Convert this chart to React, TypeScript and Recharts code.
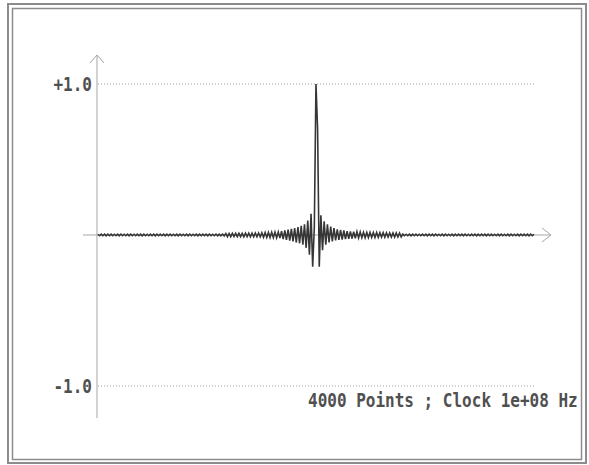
import { LineChart, Line, XAxis, YAxis, ReferenceLine, ReferenceDot } from 'recharts';

// impulse response (every 15th of the 4000 points)
const SAMPLE_STEP = 15;
const samples: number[] = [
  0.005, -0.005, 0.006, -0.005, 0.005, -0.006, 0.005, -0.005, 0.006, -0.005,
  0.005, -0.005, 0.005, -0.006, 0.006, -0.005, 0.005, -0.005, 0.005, -0.006,
  0.006, -0.005, 0.005, -0.005, 0.006, -0.005, 0.005, -0.006, 0.005, -0.005,
  0.005, -0.005, 0.006, -0.005, 0.005, -0.006, 0.005, -0.005, 0.006, -0.005,
  0.005, -0.006, 0.005, -0.005, 0.006, -0.005, 0.005, -0.005, 0.005, -0.006,
  0.006, -0.005, 0.005, -0.005, 0.005, -0.006, 0.006, -0.005, 0.005, -0.005,
  0.005, -0.006, 0.005, -0.005, 0.006, -0.005, 0.005, -0.006, 0.006, -0.005,
  0.005, -0.005, 0.006, -0.006, 0.005, -0.006, 0.006, -0.006,
  0.010, -0.011, 0.010, -0.011, 0.011, -0.010, 0.011, -0.011, 0.011, -0.011,
  0.011, -0.012, 0.012, -0.011, 0.012, -0.012, 0.012, -0.012, 0.013, -0.012,
  0.013, -0.013,
  0.015, -0.015, 0.016, -0.016, 0.017, -0.017, 0.018, -0.018, 0.019, -0.019,
  0.02, -0.021,
  0.025, -0.027, 0.03, -0.032, 0.035, -0.037, 0.04,
  -0.042, 0.045, -0.05, 0.052, -0.055, 0.06, -0.065, 0.07,
  -0.085, 0.095, -0.13, 0.14, -0.21, 0.05, 1.0, 0.7, -0.21,
  0.13, -0.1, 0.09, -0.065, 0.07, -0.05, 0.055, -0.042, 0.045, -0.035, 0.038, -0.032, 0.033, -0.03, 0.03,
  -0.027, 0.026, -0.025, 0.024, -0.023, 0.022, -0.022, 0.021, -0.02, 0.02,
  -0.018, 0.018, -0.018, 0.017, -0.017, 0.017, -0.016, 0.016, -0.016, 0.016,
  -0.015, 0.015, -0.015, 0.015, -0.015, 0.015, -0.014, 0.014, -0.014, 0.014,
  -0.014, 0.014, -0.013, 0.013, -0.013,
  0.006, -0.005, 0.005, -0.005, 0.005, -0.006, 0.005, -0.005, 0.006, -0.005,
  0.005, -0.005, 0.006, -0.005, 0.005, -0.006, 0.005, -0.005, 0.005, -0.006,
  0.006, -0.005, 0.005, -0.005, 0.005, -0.006, 0.006, -0.005, 0.005, -0.005,
  0.005, -0.006, 0.005, -0.005, 0.006, -0.005, 0.005, -0.006, 0.006, -0.005,
  0.005, -0.005, 0.006, -0.005, 0.005, -0.006, 0.005, -0.005, 0.006, -0.005,
  0.005, -0.006, 0.005, -0.005, 0.006, -0.005, 0.005, -0.005, 0.005, -0.006,
  0.006, -0.005, 0.005, -0.005, 0.005, -0.006, 0.006, -0.005, 0.005, -0.005,
  0.005, -0.006, 0.005, -0.005, 0.006, -0.005, 0.005, -0.006, 0.006, -0.005,
  0.005,
];

const POINTS = 4000;
const yTicks = [1, -1];
const yTickLabels = ['+1.0', '-1.0'];
const caption = '4000 Points ; Clock 1e+08 Hz';

const data = samples.map((v, i) => ({ t: i * SAMPLE_STEP, v }));

const FONT = '"DejaVu Sans Mono", monospace';
const AXIS = '#a6a6a6';

const TickText = (props: any) => (
  <text
    transform={`translate(${props.cx - 6},${props.cy}) scale(1,1.25)`}
    textAnchor="end"
    dominantBaseline="central"
    fontFamily={FONT}
    fontWeight="bold"
    fontSize={16}
    fill="#505050"
  >
    {props.label}
  </text>
);

const UpArrow = (props: any) => (
  <path d={`M${props.cx - 7},${props.cy + 8} L${props.cx},${props.cy} L${props.cx + 7},${props.cy + 8}`} stroke={AXIS} fill="none" />
);

const RightArrow = (props: any) => (
  <path d={`M${props.cx - 9},${props.cy - 7} L${props.cx},${props.cy} L${props.cx - 9},${props.cy + 7}`} stroke={AXIS} fill="none" />
);

export default function App() {
  return (
    <div style={{ position: 'absolute', left: 0, top: 0, width: 589, height: 465, background: '#fff' }}>
      <LineChart width={589} height={465} data={data} margin={{ top: 55, right: 38, bottom: 47, left: 83 }}>
        <XAxis type="number" dataKey="t" domain={[-137, 4146]} allowDataOverflow hide />
        <YAxis type="number" domain={[-1.212, 1.192]} allowDataOverflow hide width={0} />
        {yTicks.map(v => (
          <ReferenceLine
            key={v}
            segment={[{ x: 0, y: v }, { x: POINTS, y: v }]}
            stroke="#9a9a9a"
            strokeDasharray="1 2"
          />
        ))}
        <ReferenceLine y={0} stroke={AXIS} />
        <ReferenceLine x={-9} stroke={AXIS} />
        <ReferenceDot x={-9} y={1.192} ifOverflow="visible" shape={UpArrow} />
        <ReferenceDot x={4146} y={0} ifOverflow="visible" shape={RightArrow} />
        {yTicks.map((v, i) => (
          <ReferenceDot key={'l' + v} x={0} y={v} ifOverflow="visible" shape={(p: any) => <TickText {...p} label={yTickLabels[i]} />} />
        ))}
        <Line type="linear" dataKey="v" stroke="#363636" strokeWidth={1.6} dot={false} isAnimationActive={false} />
      </LineChart>
      <svg width={589} height={465} style={{ position: 'absolute', left: 0, top: 0, pointerEvents: 'none' }}>
        <rect x={8} y={4} width={578} height={459} fill="none" stroke="#8c8c8c" strokeWidth={2} />
        <rect x={12.5} y={8.5} width={569} height={451} fill="none" stroke="#8c8c8c" strokeWidth={1.5} />
        <text transform="translate(308,407) scale(1,1.25)" fontFamily={FONT} fontWeight="bold" fontSize={16} fill="#505050">
          {caption}
        </text>
      </svg>
    </div>
  );
}
